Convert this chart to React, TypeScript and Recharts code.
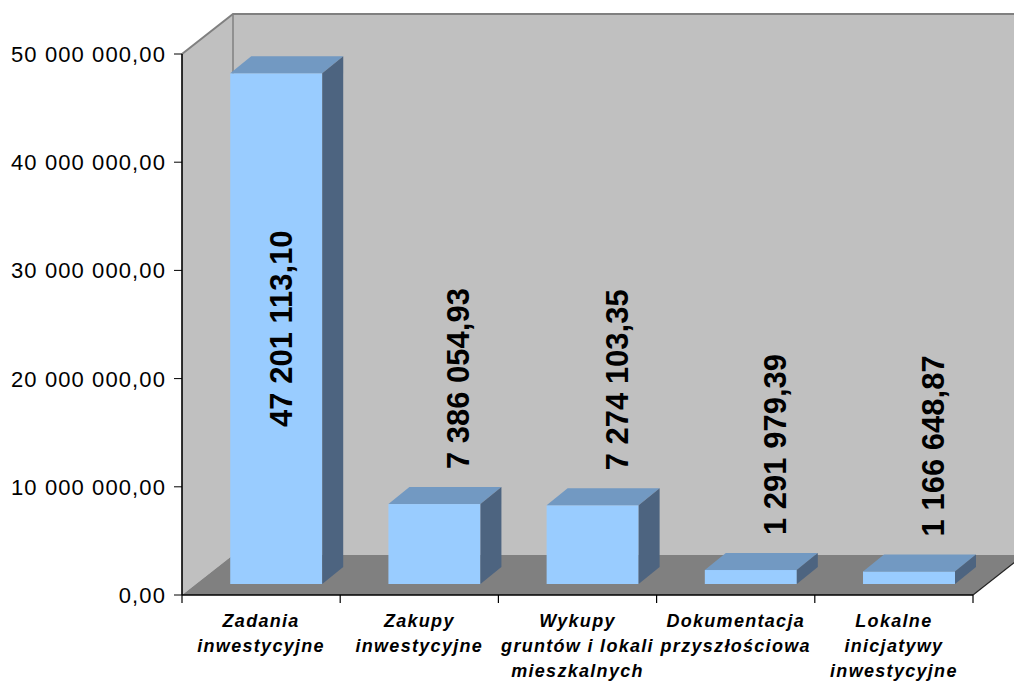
import { Bar, BarChart, LabelList, ReferenceArea, XAxis, YAxis } from "recharts";

const categories = [
  "Zadania inwestycyjne",
  "Zakupy inwestycyjne",
  "Wykupy gruntów i lokali mieszkalnych",
  "Dokumentacja przyszłościowa",
  "Lokalne inicjatywy inwestycyjne",
];
const categoryLines = [
  ["Zadania", "inwestycyjne"],
  ["Zakupy", "inwestycyjne"],
  ["Wykupy", "gruntów i lokali", "mieszkalnych"],
  ["Dokumentacja", "przyszłościowa"],
  ["Lokalne", "inicjatywy", "inwestycyjne"],
];
const values = [47201113.1, 7386054.93, 7274103.35, 1291979.39, 1166648.87];
const yTicks = [0, 10000000, 20000000, 30000000, 40000000, 50000000];

const data = categories.map((name, i) => ({ name, value: values[i] }));

const FONT = "'Liberation Sans', Arial, sans-serif";
const DEPTH_X = 51;
const DEPTH_Y = -40;
// bars sit a bit behind the front plane
const SHIFT_X = 15;
const SHIFT_Y = -11;
const BAR_DX = 21;
const BAR_DY = -17;

const fmt = (v: number) => {
  const [i, d] = v.toFixed(2).split(".");
  return i.replace(/\B(?=(\d{3})+(?!\d))/g, " ") + "," + d;
};

function Walls(props: any) {
  const { x, y, width, height } = props;
  const right = Math.min(x + width + DEPTH_X, 1014);
  const bottom = y + height;
  const n = categories.length;
  return (
    <g>
      <polygon
        points={`${x},${y} ${x + DEPTH_X},${y + DEPTH_Y} ${x + DEPTH_X},${bottom + DEPTH_Y} ${x},${bottom}`}
        fill="#c0c0c0"
      />
      <rect x={x + DEPTH_X} y={y + DEPTH_Y} width={right - x - DEPTH_X} height={height} fill="#c0c0c0" />
      <polygon
        points={`${x},${bottom} ${x + DEPTH_X},${bottom + DEPTH_Y} ${x + width + DEPTH_X},${bottom + DEPTH_Y} ${x + width},${bottom}`}
        fill="#808080"
      />
      <polyline
        points={`${x},${y} ${x + DEPTH_X},${y + DEPTH_Y} ${right},${y + DEPTH_Y}`}
        fill="none"
        stroke="#808080"
        strokeWidth={2}
      />
      <line x1={x + DEPTH_X} y1={y + DEPTH_Y} x2={x + DEPTH_X} y2={bottom + DEPTH_Y} stroke="#808080" strokeWidth={1.5} />
      <line x1={x + width} y1={bottom} x2={x + width + DEPTH_X} y2={bottom + DEPTH_Y} stroke="#222" strokeWidth={1.2} />
      <line x1={x} y1={y} x2={x} y2={bottom} stroke="#000" strokeWidth={1.2} />
      <line x1={x} y1={bottom} x2={x + width} y2={bottom} stroke="#000" strokeWidth={1.2} />
      {Array.from({ length: n + 1 }, (_, i) => (
        <line
          key={i}
          x1={x + (i * width) / n}
          y1={bottom}
          x2={x + (i * width) / n}
          y2={bottom + 8}
          stroke="#000"
          strokeWidth={1.2}
        />
      ))}
    </g>
  );
}

function Bar3D(props: any) {
  const { x, y, width, height } = props;
  if (width == null || height == null) return null;
  const fx = x + SHIFT_X;
  const fy = y + SHIFT_Y;
  return (
    <g>
      <rect x={fx} y={fy} width={width} height={height} fill="#99ccff" />
      <polygon
        points={`${fx},${fy} ${fx + BAR_DX},${fy + BAR_DY} ${fx + width + BAR_DX},${fy + BAR_DY} ${fx + width},${fy}`}
        fill="#7299c2"
      />
      <polygon
        points={`${fx + width},${fy} ${fx + width + BAR_DX},${fy + BAR_DY} ${fx + width + BAR_DX},${fy + height + BAR_DY} ${fx + width},${fy + height}`}
        fill="#4d6480"
      />
    </g>
  );
}

function ValueLabel(props: any) {
  const { x, y, width, height, value } = props;
  const fx = x + SHIFT_X;
  const fy = y + SHIFT_Y;
  const cx = fx + width / 2;
  const inside = fy - 35 - 200 < 0;
  const bx = inside ? cx + 16 : cx + 35;
  const by = inside ? fy + height / 2 : fy - 35;
  return (
    <text
      x={bx}
      y={by}
      transform={`rotate(-90, ${bx}, ${by})`}
      textAnchor={inside ? "middle" : "start"}
      fontFamily={FONT}
      fontWeight="bold"
      fontSize={31}
      fill="#000"
    >
      {fmt(value)}
    </text>
  );
}

function YTick(props: any) {
  const { x, y, payload } = props;
  return (
    <text
      x={x - 6}
      y={y}
      dy={8}
      textAnchor="end"
      fontFamily={FONT}
      fontSize={22}
      letterSpacing={1.1}
      fill="#000"
    >
      {fmt(payload.value)}
    </text>
  );
}

function XTick(props: any) {
  const { x, payload, index } = props;
  const lines = categoryLines[index] ?? [payload.value];
  return (
    <text
      textAnchor="middle"
      fontFamily={FONT}
      fontSize={18}
      fontWeight="bold"
      fontStyle="italic"
      letterSpacing={1.3}
      fill="#000"
    >
      {lines.map((line: string, i: number) => (
        <tspan key={i} x={x} y={627 + i * 25}>
          {line}
        </tspan>
      ))}
    </text>
  );
}

export default function App() {
  return (
    <div
      style={{
        position: "absolute",
        left: 0,
        top: 0,
        width: 1014,
        height: 682,
        overflow: "hidden",
        background: "#fff",
      }}
    >
      <BarChart
        width={1014}
        height={682}
        data={data}
        margin={{ top: 54, right: 41, bottom: 0, left: 0 }}
        barCategoryGap="21%"
      >
        <ReferenceArea y1={0} y2={50000000} ifOverflow="visible" shape={Walls} zIndex={-10} />
        <XAxis
          dataKey="name"
          height={87}
          interval={0}
          tickLine={false}
          axisLine={{ stroke: "#000" }}
          tick={<XTick />}
        />
        <YAxis
          width={182}
          domain={[0, 50000000]}
          ticks={yTicks}
          tickSize={8}
          tickLine={{ stroke: "#000" }}
          axisLine={{ stroke: "#000" }}
          tick={<YTick />}
        />
        <Bar dataKey="value" shape={<Bar3D />} isAnimationActive={false}>
          <LabelList dataKey="value" content={<ValueLabel />} />
        </Bar>
      </BarChart>
    </div>
  );
}
